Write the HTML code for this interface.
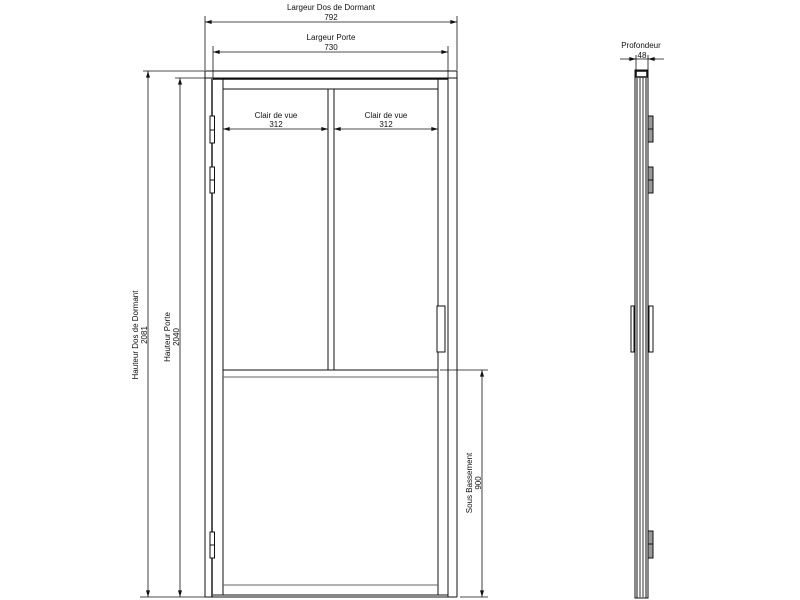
<!DOCTYPE html>
<html><head><meta charset="utf-8"><style>
html,body{margin:0;padding:0;background:#fff;}
svg{display:block;}
text{font-family:"Liberation Sans",sans-serif;font-size:8px;fill:#111;text-anchor:middle;}
</style></head><body>
<svg width="800" height="600" viewBox="0 0 800 600" xmlns="http://www.w3.org/2000/svg">
<defs>
<marker id="a" viewBox="0 0 10 6" refX="10" refY="3" markerWidth="8" markerHeight="4" orient="auto-start-reverse" markerUnits="userSpaceOnUse"><path d="M0,0 L10,3 L0,6z" fill="#111"/></marker>
</defs>
<g stroke="#111" stroke-width="0.8" fill="none">
<line x1="205" y1="16" x2="205" y2="70"/>
<line x1="457" y1="16" x2="457" y2="70"/>
<line x1="213" y1="46" x2="213" y2="80"/>
<line x1="448" y1="46" x2="448" y2="80"/>
<line x1="143" y1="71" x2="205" y2="71"/>
<line x1="175" y1="78" x2="205" y2="78"/>
<line x1="140" y1="597" x2="205" y2="597"/>
<line x1="440" y1="370" x2="488" y2="370"/>
<line x1="460" y1="597" x2="488" y2="597"/>
<line x1="205" y1="22" x2="457" y2="22" marker-start="url(#a)" marker-end="url(#a)"/>
<line x1="213" y1="52" x2="448" y2="52" marker-start="url(#a)" marker-end="url(#a)"/>
<line x1="223" y1="129" x2="328" y2="129" marker-start="url(#a)" marker-end="url(#a)"/>
<line x1="334" y1="129" x2="438" y2="129" marker-start="url(#a)" marker-end="url(#a)"/>
<line x1="148" y1="71" x2="148" y2="597" marker-start="url(#a)" marker-end="url(#a)"/>
<line x1="180" y1="78" x2="180" y2="597" marker-start="url(#a)" marker-end="url(#a)"/>
<line x1="482" y1="370" x2="482" y2="597" marker-start="url(#a)" marker-end="url(#a)"/>
<line x1="620" y1="59" x2="664" y2="59"/>
<line x1="628" y1="59" x2="636" y2="59" marker-end="url(#a)"/>
<line x1="656" y1="59" x2="648" y2="59" marker-end="url(#a)"/>
<line x1="636" y1="55" x2="636" y2="70"/>
<line x1="648" y1="55" x2="648" y2="70"/>
</g>
<g stroke="#111" stroke-width="1" fill="none">
<rect x="205" y="71" width="252" height="7"/>
<line x1="205" y1="78" x2="205" y2="597"/>
<line x1="457" y1="78" x2="457" y2="597"/>
<line x1="212" y1="78" x2="212" y2="597" stroke="#555" stroke-width="2"/>
<line x1="448" y1="78" x2="448" y2="597"/>
<line x1="205" y1="597" x2="457" y2="597"/>
<line x1="213" y1="79" x2="448" y2="79" stroke-width="1.5"/>
<rect x="223" y="79" width="215" height="516"/>
<line x1="223" y1="89" x2="438" y2="89"/>
<line x1="328" y1="89" x2="328" y2="370"/>
<line x1="334" y1="89" x2="334" y2="370"/>
<line x1="223" y1="370" x2="438" y2="370"/>
<line x1="223" y1="377" x2="438" y2="377" stroke="#666"/>
<line x1="223" y1="585" x2="438" y2="585" stroke="#666"/>
<line x1="213" y1="595" x2="448" y2="595"/>
<rect x="210" y="116" width="4.5" height="27" fill="#fff"/><line x1="210" y1="130" x2="215" y2="130"/>
<rect x="210" y="167" width="4.5" height="26" fill="#fff"/><line x1="210" y1="180" x2="215" y2="180"/>
<rect x="210" y="532" width="4.5" height="26" fill="#fff"/><line x1="210" y1="545" x2="215" y2="545"/>
<rect x="437" y="306" width="8" height="46" fill="#fff"/>
<rect x="635" y="70" width="13" height="528"/>
<line x1="637" y1="78" x2="637" y2="598"/>
<line x1="640" y1="78" x2="640" y2="598" stroke="#777" stroke-width="1.5"/>
<line x1="643" y1="78" x2="643" y2="598" stroke="#777" stroke-width="1.5"/>
<line x1="646" y1="78" x2="646" y2="598"/>
<rect x="636" y="71" width="11" height="6" stroke-width="1.5"/>
<rect x="648" y="116" width="5" height="26" fill="#999"/><line x1="648" y1="129" x2="653" y2="129"/>
<rect x="648" y="167" width="5" height="26" fill="#999"/><line x1="648" y1="180" x2="653" y2="180"/>
<rect x="648" y="531" width="5" height="27" fill="#999"/><line x1="648" y1="544" x2="653" y2="544"/>
<rect x="631" y="306" width="3" height="46"/>
<rect x="649" y="306" width="4" height="46"/>
</g>
<text x="331" y="10">Largeur Dos de Dormant</text>
<text x="331" y="20">792</text>
<text x="331" y="40">Largeur Porte</text>
<text x="331" y="50">730</text>
<text x="276" y="118">Clair de vue</text>
<text x="276" y="127">312</text>
<text x="386" y="118">Clair de vue</text>
<text x="386" y="127">312</text>
<text x="641" y="48">Profondeur</text>
<text x="642" y="58">48</text>
<text transform="translate(138,335) rotate(-90)">Hauteur Dos de Dormant</text>
<text transform="translate(147,335) rotate(-90)">2081</text>
<text transform="translate(170,337) rotate(-90)">Hauteur Porte</text>
<text transform="translate(179,337) rotate(-90)">2040</text>
<text transform="translate(472,483) rotate(-90)">Sous Bassement</text>
<text transform="translate(481,483) rotate(-90)">900</text>
</svg>
</body></html>
